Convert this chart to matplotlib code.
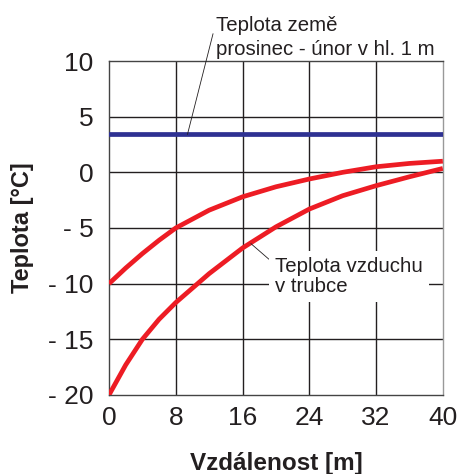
import matplotlib.pyplot as plt

plt.rcParams['font.family'] = ['Liberation Sans', 'DejaVu Sans']

# data
vzdalenost = [0, 2, 4, 6, 8, 12, 16, 20, 24, 28, 32, 36, 40]
vzduch_1 = [-10, -8.6, -7.3, -6.1, -5.0, -3.4, -2.2, -1.3, -0.6, 0.0, 0.5, 0.8, 1.0]
vzduch_2 = [-20, -17.3, -15.0, -13.2, -11.7, -9.1, -6.8, -4.9, -3.3, -2.1, -1.2, -0.4, 0.35]
teplota_zeme = 3.4

x_ticks = [0, 8, 16, 24, 32, 40]
y_ticks = [-20, -15, -10, -5, 0, 5, 10]
y_labels = ['- 20', '- 15', '- 10', '- 5', '0', '5', '10']

txt = '#231f20'
red = '#ed1c24'
blue = '#2e3192'

fig = plt.figure(figsize=(4.57, 4.74), dpi=100)
ax = fig.add_axes([0.2385, 0.1667, 0.7305, 0.7046])

for x in x_ticks[1:-1]:
    ax.axvline(x, color=txt, lw=1.0, zorder=1)
for y in y_ticks[1:-1]:
    ax.axhline(y, color=txt, lw=1.0, zorder=1)

ax.axhline(teplota_zeme, color=blue, lw=3.4, zorder=3)
ax.plot(vzdalenost, vzduch_1, color=red, lw=3.4, zorder=4, solid_capstyle='butt')
ax.plot(vzdalenost, vzduch_2, color=red, lw=3.4, zorder=4, solid_capstyle='butt')

ax.set_xlim(0, 40)
ax.set_ylim(-20, 10)
ax.set_xticks(x_ticks)
ax.set_yticks(y_ticks)
ax.set_yticklabels(y_labels)
ax.tick_params(length=0, labelsize=19, colors=txt)
ax.tick_params(axis='y', pad=11)
ax.tick_params(axis='x', pad=8)

for s in ['left', 'bottom', 'top']:
    ax.spines[s].set_color('#444444')
ax.spines['right'].set_color('#999999')
for s in ax.spines.values():
    s.set_linewidth(1.0)

ax.set_xlabel('Vzdálenost [m]', fontsize=17.5, fontweight='bold', color=txt, labelpad=16)
ax.set_ylabel('Teplota [°C]', fontsize=17, fontweight='bold', color=txt, labelpad=10)

# popisky
ax.annotate('Teplota země\nprosinec - únor v hl. 1 m', xy=(9.4, teplota_zeme),
            xytext=(12.8, 12.1), fontsize=14.7, color=txt, ha='left', va='center',
            linespacing=1.3, annotation_clip=False,
            arrowprops=dict(arrowstyle='-', color=txt, lw=0.6, shrinkA=0, shrinkB=0,
                            relpos=(0, 0.85)))
ax.annotate('Teplota vzduchu\nv trubce', xy=(17.0, -6.4), xytext=(19.9, -9.35),
            fontsize=14.7, color=txt, ha='left', va='center', linespacing=1.1,
            bbox=dict(boxstyle='square,pad=0.3', fc='white', ec='none'),
            arrowprops=dict(arrowstyle='-', color=txt, lw=0.6, shrinkA=0, shrinkB=0,
                            relpos=(0, 0.8)), zorder=5)

fig.savefig('out.png', dpi=100)
